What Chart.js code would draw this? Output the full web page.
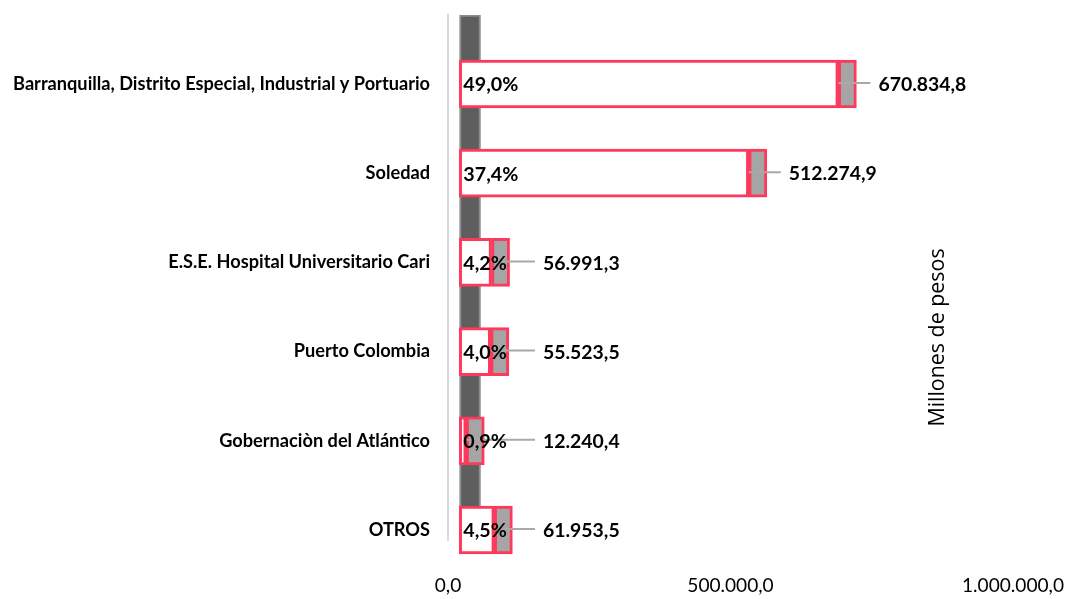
<!DOCTYPE html>
<html>
<head>
<meta charset="UTF-8">
<script src="https://cdn.jsdelivr.net/npm/chart.js"></script>
<style>
  html, body { margin: 0; padding: 0; background: #fff; }
</style>
</head>
<body>
<canvas id="myChart" width="1067" height="599"></canvas>
<script>
// ---- data ----
const categories = [
  'Barranquilla, Distrito Especial, Industrial y Portuario',
  'Soledad',
  'E.S.E. Hospital Universitario Cari',
  'Puerto Colombia',
  'Gobernaciòn del Atlántico',
  'OTROS'
];
const values = [670834.8, 512274.9, 56991.3, 55523.5, 12240.4, 61953.5];
const shares = ['49,0%', '37,4%', '4,2%', '4,0%', '0,9%', '4,5%'];
// small grey end piece of every bar (same length on every row)
const capValues = [32000, 32000, 32000, 32000, 32000, 32000];
const xTicks = [0, 500000, 1000000];
// bars in the original start a bit right of zero, behind them sits a dark column
const barStart = 20000;
const darkColumnAt = 39000;

const RED = '#fe3a5c';

// ---- fonts: fit sizes to the widths in the picture ----
const probe = document.createElement('canvas').getContext('2d');
function fitSize(text, width, weight, family) {
  probe.font = weight + ' 100px ' + family;
  return Math.round(1000 * width / probe.measureText(text).width) / 10;
}
const BOLD = 'Lato, sans-serif';
const PLAIN = 'Lato, sans-serif';
const catSize = fitSize(categories[0], 418, 'bold', BOLD);
const shareSize = fitSize('49,0%', 55, 'bold', BOLD);
const valueSize = fitSize('670.834,8', 88, 'bold', BOLD);
const tickSize = fitSize('1.000.000,0', 102, 'normal', PLAIN);
const titleSize = fitSize('Millones de pesos', 178, 'normal', '"Open Sans", sans-serif');

function fmt(v) {
  const parts = v.toFixed(1).split('.');
  return parts[0].replace(/\B(?=(\d{3})+(?!\d))/g, '.') + ',' + parts[1];
}

// row positions on the linear index axis: rows 0..5
const Y_MIN = -0.7735;
const Y_MAX = 5.112;

const labelPlugin = {
  id: 'barLabels',
  afterDatasetsDraw(chart) {
    const ctx = chart.ctx;
    const whites = chart.getDatasetMeta(1).data;
    const caps = chart.getDatasetMeta(2).data;
    const zeroX = chart.scales.x.getPixelForValue(0);
    ctx.save();
    values.forEach((v, i) => {
      const w = whites[i];
      const c = caps[i];
      const y = w.y;
      const labelX = Math.max(c.x + 22, zeroX + 95);
      ctx.strokeStyle = '#a9a9a9';
      ctx.lineWidth = 2;
      ctx.beginPath();
      ctx.moveTo(c.base, y - 1);
      ctx.lineTo(labelX - 8, y - 1);
      ctx.stroke();
      ctx.fillStyle = '#000';
      ctx.textBaseline = 'middle';
      ctx.textAlign = 'left';
      ctx.font = 'bold ' + valueSize + 'px ' + BOLD;
      ctx.fillText(fmt(v), labelX, y + 1);
      ctx.font = 'bold ' + shareSize + 'px ' + BOLD;
      ctx.fillText(shares[i], Math.min(w.x, w.base) + 4, y + 1);
    });
    ctx.restore();
  },
  afterDraw(chart) {
    const ctx = chart.ctx;
    const a = chart.chartArea;
    ctx.save();
    ctx.translate(a.right - 75, (a.top + a.bottom) / 2 + 60);
    ctx.rotate(-Math.PI / 2);
    ctx.fillStyle = '#000';
    ctx.font = 'normal ' + titleSize + 'px "Open Sans", sans-serif';
    ctx.textAlign = 'center';
    ctx.textBaseline = 'middle';
    ctx.fillText('Millones de pesos', 0, 0);
    ctx.restore();
  }
};

const ctx = document.getElementById('myChart');

new Chart(ctx, {
  type: 'bar',
  data: {
    datasets: [
      {
        // dark column behind the bars
        indexAxis: 'x',
        data: [{ x: darkColumnAt, y: [Y_MIN, Y_MAX] }],
        backgroundColor: '#5e5e5e',
        borderColor: '#8d8d8d',
        borderWidth: 2,
        borderSkipped: false,
        barThickness: 21,
        order: 3
      },
      {
        data: values.map((v, i) => ({ x: [barStart, barStart + v], y: i })),
        backgroundColor: '#ffffff',
        borderColor: RED,
        borderWidth: 3,
        borderSkipped: false,
        barThickness: 48,
        clip: false,
        order: 2
      },
      {
        data: values.map((v, i) => ({ x: [barStart + v, barStart + v + capValues[i]], y: i })),
        backgroundColor: '#a5a5a5',
        borderColor: RED,
        borderWidth: 3,
        borderSkipped: false,
        barThickness: 48,
        clip: false,
        order: 1
      }
    ]
  },
  options: {
    indexAxis: 'y',
    responsive: false,
    animation: false,
    datasets: { bar: { grouped: false } },
    layout: { padding: { top: 15, right: 54, bottom: 0, left: 0 } },
    scales: {
      x: {
        type: 'linear',
        offset: false,
        min: 0,
        max: 1000000,
        afterBuildTicks: s => { s.ticks = xTicks.map(v => ({ value: v })); },
        afterFit: s => { s.height = 59; s.paddingLeft = 0; s.paddingRight = 0; },
        grid: { display: false, drawTicks: false, offset: false },
        border: { display: false },
        ticks: {
          padding: 34,
          color: '#000',
          font: { family: PLAIN, size: tickSize },
          callback: v => fmt(v)
        }
      },
      y: {
        type: 'linear',
        offset: false,
        reverse: true,
        min: Y_MIN,
        max: Y_MAX,
        afterBuildTicks: s => { s.ticks = categories.map((_, i) => ({ value: i })); },
        afterFit: s => { s.width = 448; s.paddingTop = 0; s.paddingBottom = 0; },
        grid: { display: false, drawTicks: false, offset: false },
        border: { display: true, color: '#d9d9d9', width: 2 },
        ticks: {
          padding: 18,
          color: '#000',
          font: { family: BOLD, size: catSize, weight: 'bold' },
          callback: v => categories[v]
        }
      }
    },
    plugins: {
      legend: { display: false },
      tooltip: { enabled: false },
      title: { display: false }
    }
  },
  plugins: [labelPlugin]
});
</script>
</body>
</html>
